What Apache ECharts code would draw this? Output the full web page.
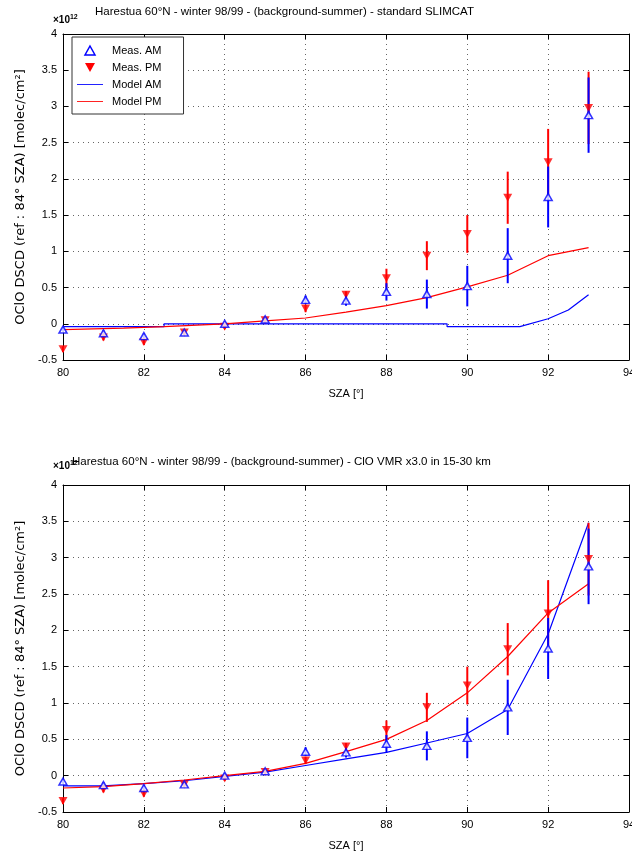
<!DOCTYPE html>
<html><head><meta charset="utf-8">
<script src="https://cdn.jsdelivr.net/npm/echarts@6/dist/echarts.min.js"></script>
<style>html,body{margin:0;padding:0;background:#fff;overflow:hidden}#c{width:632px;height:857px}</style>
</head><body><div id="c"></div>
<script>
// ---- data ----
const sza = [80, 81, 82, 83, 84, 85, 86, 87, 88, 89, 90, 91, 92, 93];
const measAM = [-0.08, -0.13, -0.17, -0.12, 0.0, 0.06, 0.33, 0.32, 0.44, 0.41, 0.52, 0.94, 1.75, 2.88];
const measPM = [-0.35, -0.19, -0.25, -0.12, -0.04, 0.05, 0.21, 0.40, 0.63, 0.94, 1.24, 1.74, 2.23, 2.98];
const errAM = [0.03, 0.04, 0.04, 0.03, 0.03, 0.03, 0.06, 0.07, 0.12, 0.20, 0.28, 0.38, 0.42, 0.52];
const errPM = [0.04, 0.04, 0.04, 0.03, 0.03, 0.03, 0.05, 0.05, 0.13, 0.20, 0.26, 0.36, 0.46, 0.50];

const topModelAMx = [80, 82.5, 82.5, 89.5, 89.5, 91.3, 92, 92.5, 93];
const topModelAMy = [-0.04, -0.04, 0.0, 0.0, -0.04, -0.04, 0.07, 0.19, 0.40];
const topModelPMx = [80, 81.5, 82.5, 84, 85, 86, 87, 88, 89, 90, 91, 92, 93];
const topModelPMy = [-0.08, -0.06, -0.04, 0.0, 0.04, 0.08, 0.16, 0.25, 0.36, 0.51, 0.67, 0.94, 1.05];

const botModelAM = [-0.14, -0.14, -0.11, -0.07, -0.01, 0.05, 0.14, 0.23, 0.32, 0.45, 0.58, 0.91, 1.95, 3.48];
const botModelPM = [-0.17, -0.15, -0.11, -0.06, 0.0, 0.06, 0.17, 0.33, 0.50, 0.76, 1.14, 1.64, 2.24, 2.64];

const xTicks = [80, 82, 84, 86, 88, 90, 92, 94];
const yTicks = [-0.5, 0, 0.5, 1, 1.5, 2, 2.5, 3, 3.5, 4];

const title1 = 'Harestua 60°N - winter 98/99 - (background-summer) - standard SLIMCAT';
const title2 = 'Harestua 60°N - winter 98/99 - (background-summer) - ClO VMR x3.0 in 15-30 km';
const yName = 'OClO DSCD (ref : 84° SZA) [molec/cm²]';
const xName = 'SZA [°]';

// ---- chart ----
const FONT = 'Liberation Sans, Arial, sans-serif';
const BLUE = '#0000ff', RED = '#ff0000';
const chart = echarts.init(document.getElementById('c'), null, {renderer: 'canvas'});

const grids = [
  {left: 63, top: 34, width: 566, height: 326, outerBoundsMode: 'none', containLabel: false},
  {left: 63, top: 485, width: 566, height: 327, outerBoundsMode: 'none', containLabel: false}
];

function xAx(gi, pos) {
  const main = pos === 'bottom';
  return {
    type: 'value', gridIndex: gi, position: pos, min: xTicks[0], max: xTicks[xTicks.length - 1], interval: 2,
    name: main ? xName : '', nameLocation: 'middle', nameGap: 28,
    nameTextStyle: {fontFamily: FONT, fontSize: 11, color: '#000'},
    axisLine: {onZero: false, lineStyle: {color: '#000', width: 1}},
    axisTick: {show: true, inside: true, length: 5, lineStyle: {color: '#000'}},
    axisLabel: {show: main, fontFamily: FONT, fontSize: 11, color: '#000', margin: 7},
    splitLine: {show: main, lineStyle: {color: '#666', type: [1, 4], width: 1}}
  };
}
function yAx(gi, pos) {
  const main = pos === 'left';
  return {
    type: 'value', gridIndex: gi, position: pos, min: yTicks[0], max: yTicks[yTicks.length - 1], interval: 0.5,
    name: main ? yName : '', nameLocation: 'middle', nameGap: 32, nameRotate: 90,
    nameTextStyle: {fontFamily: 'DejaVu Sans, sans-serif', fontSize: 13, color: '#000'},
    axisLine: {onZero: false, lineStyle: {color: '#000', width: 1}},
    axisTick: {show: true, inside: true, length: 5, lineStyle: {color: '#000'}},
    axisLabel: {show: main, fontFamily: FONT, fontSize: 11, color: '#000', margin: 6},
    splitLine: {show: main, lineStyle: {color: '#666', type: [1, 4], width: 1}}
  };
}

function errSeries(gi, vals, errs, color, name) {
  return {
    type: 'custom', name: name, xAxisIndex: gi * 2, yAxisIndex: gi * 2,
    data: sza.map((x, i) => [x, vals[i] - errs[i], vals[i] + errs[i]]),
    encode: {x: 0, y: [1, 2]},
    renderItem: function (params, api) {
      const p1 = api.coord([api.value(0), api.value(1)]);
      const p2 = api.coord([api.value(0), api.value(2)]);
      return {type: 'line', shape: {x1: p1[0], y1: p1[1], x2: p2[0], y2: p2[1]},
        style: {stroke: color, lineWidth: 2}};
    },
    z: 3, silent: true
  };
}
const DOWN = 'path://M0,0 L10,0 L5,9 Z';
const UP = 'path://M5,0 L10,9 L0,9 Z';

function measSeries(gi) {
  return [
    errSeries(gi, measPM, errPM, RED, 'Meas. PM'),
    errSeries(gi, measAM, errAM, BLUE, 'Meas. AM'),
    {type: 'scatter', name: 'Meas. PM', xAxisIndex: gi * 2, yAxisIndex: gi * 2,
     data: sza.map((x, i) => [x, measPM[i]]), symbol: DOWN, symbolSize: [9, 8],
     itemStyle: {color: RED}, z: 4},
    {type: 'scatter', name: 'Meas. AM', xAxisIndex: gi * 2, yAxisIndex: gi * 2,
     data: sza.map((x, i) => [x, measAM[i]]), symbol: UP, symbolSize: [8, 7],
     itemStyle: {color: '#fff', borderColor: BLUE, borderWidth: 1.5}, z: 5}
  ];
}
function lineSeries(gi, name, xs, ys, color) {
  return {type: 'line', name: name, xAxisIndex: gi * 2, yAxisIndex: gi * 2,
    data: xs.map((x, i) => [x, ys[i]]), showSymbol: false, symbol: 'none',
    lineStyle: {color: color, width: 1.2}, itemStyle: {color: color}, z: 2, animation: false};
}

const expRich = {a: {fontFamily: FONT, fontSize: 10, color: '#000'}, b: {fontFamily: FONT, fontSize: 7, color: '#000', verticalAlign: 'top', padding: [0, 0, 6, 0]}};

const option = {
  animation: false,
  backgroundColor: '#fff',
  title: [
    {text: title1, left: 90, top: 1, textStyle: {fontFamily: FONT, fontSize: 11.5, fontWeight: 'normal', color: '#000'}},
    {text: '{a|×10}{b|12}', left: 48, top: 9, textStyle: {rich: expRich}},
    {text: title2, left: 67, top: 451, textStyle: {fontFamily: FONT, fontSize: 11.5, fontWeight: 'normal', color: '#000'}},
    {text: '{a|×10}{b|12}', left: 48, top: 455, textStyle: {rich: expRich}}
  ],
  legend: {
    left: 72, top: 37, orient: 'vertical',
    backgroundColor: '#fff', borderColor: '#333', borderWidth: 1,
    padding: [8, 22, 7, 5], itemGap: 6, itemWidth: 26, itemHeight: 9,
    textStyle: {fontFamily: FONT, fontSize: 11, color: '#000', padding: [0, 0, 0, 4]},
    data: [
      {name: 'Meas. AM', icon: UP, itemStyle: {color: '#fff', borderColor: BLUE, borderWidth: 1.5}},
      {name: 'Meas. PM', icon: DOWN, itemStyle: {color: RED}},
      {name: 'Model AM', icon: 'path://M0,0 L30,0 L30,1 L0,1 Z', itemStyle: {color: BLUE}},
      {name: 'Model PM', icon: 'path://M0,0 L30,0 L30,1 L0,1 Z', itemStyle: {color: RED}}
    ],
    selectedMode: false
  },
  grid: grids,
  xAxis: [xAx(0, 'bottom'), xAx(0, 'top'), xAx(1, 'bottom'), xAx(1, 'top')],
  yAxis: [yAx(0, 'left'), yAx(0, 'right'), yAx(1, 'left'), yAx(1, 'right')],
  series: [
    lineSeries(0, 'Model AM', topModelAMx, topModelAMy, BLUE),
    lineSeries(0, 'Model PM', topModelPMx, topModelPMy, RED),
    ...measSeries(0),
    lineSeries(1, 'Model AM', sza, botModelAM, BLUE),
    lineSeries(1, 'Model PM', sza, botModelPM, RED),
    ...measSeries(1)
  ]
};
chart.setOption(option);
</script></body></html>
